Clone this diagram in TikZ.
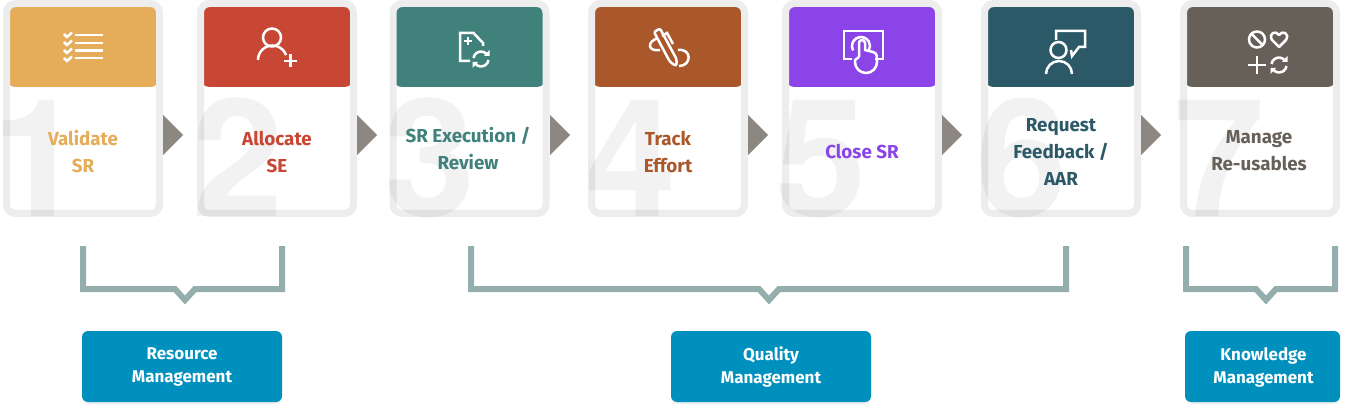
\documentclass[tikz,border=0pt]{standalone}
\usepackage{fontspec}
\setmainfont{Fira Sans}
\newfontfamily\numfont{TeX Gyre Heros}
\usetikzlibrary{arrows.meta,positioning,shadows}
\definecolor{Frame}{HTML}{EDEDED}
\definecolor{Amber}{HTML}{E5AC59}
\definecolor{Brick}{HTML}{C74634}
\definecolor{Teal}{HTML}{41817C}
\definecolor{Copper}{HTML}{AB572C}
\definecolor{Violet}{HTML}{8A44E8}
\definecolor{Slate}{HTML}{2C5967}
\definecolor{Umber}{HTML}{676059}
\definecolor{Tip}{HTML}{8C8780}
\definecolor{Brace}{HTML}{93AEAD}
\definecolor{Ocean}{HTML}{0090BE}

\begin{document}
\begin{tikzpicture}[
    x=1pt, y=-1pt,
    card/.style={draw=Frame, line width=7pt, rounded corners=9pt, fill=white,
      minimum width=153pt, minimum height=210pt, inner sep=0pt,
      path picture={\fill[#1] (path picture bounding box.north west)
        rectangle ([yshift=-83.5pt]path picture bounding box.north east);}},
    digit/.style={anchor=base west, inner sep=0pt, text=black, text opacity=0.05,
      font=\fontsize{164}{164}\selectfont\numfont\bfseries},
    cardtext/.style={align=center, inner sep=0pt, font=\fontsize{18.8}{27}\selectfont\bfseries,
      execute at begin node=\strut, execute at end node=\strut},
    tip/.style={fill=Tip},
    brace/.style={draw=Brace, line width=6pt, miter limit=10},
    groupbox/.style={fill=Ocean, rounded corners=6pt, minimum height=71pt, inner sep=0pt,
      drop shadow={opacity=0.12, shadow xshift=0pt, shadow yshift=-2pt}},
    grouptext/.style={align=center, inner sep=0pt, text=white,
      font=\fontsize{17}{23}\selectfont\bfseries,
      execute at begin node=\strut, execute at end node=\strut},
    icon/.style={draw=white, line width=2.5pt},
    refresh/.pic={
      \draw[icon] (-7.5,-1) arc[start angle=188, end angle=320, radius=7.5];
      \draw[icon] (7.5,1) arc[start angle=8, end angle=140, radius=7.5];
      \fill[white] (8.5,-9) -- (8.5,-3) -- (3,-3) -- cycle;
      \fill[white] (-8.5,9) -- (-8.5,3) -- (-3,3) -- cycle;
    }
  ]
    \useasboundingbox (0,0) rectangle (1349,414);

    % cards
    \node[card=Amber] (validate) at (83,108.5) {};
    \node[card=Brick, right=34pt of validate] (allocate) {};
    \node[card=Teal, right=32.5pt of allocate] (execution) {};
    \node[card=Copper, right=38.5pt of execution] (track) {};
    \node[card=Violet, right=34pt of track] (closesr) {};
    \node[card=Slate, right=39pt of closesr] (feedback) {};
    \node[card=Umber, right=39pt of feedback] (reuse) {};

    % big numbers
    \node[digit] (num1) at (-8,217) {1};
    \node[digit] (num2) at (192,217) {2};
    \node[digit] (num3) at (384,217) {3};
    \node[digit] (num4) at (585,217) {4};
    \node[digit] (num5) at (775,217) {5};
    \node[digit] (num6) at (976,217) {6};
    \node[digit] (num7) at (1173,217) {7};

    \node[cardtext, text=Amber] (validatetext) at (83,155.5) {Validate\\SR};
    \node[cardtext, text=Brick] (allocatetext) at (277,155.5) {Allocate\\SE};
    \node[cardtext, text=Teal] (executiontext) at (468,152.5) {SR Execution /\\Review};
    \node[cardtext, text=Copper] (tracktext) at (668,155.5) {Track\\Effort};
    \node[cardtext, text=Violet] (closesrtext) at (862,153.5) {Close SR};
    \node[cardtext, text=Slate] (feedbacktext) at (1061,156.5) {Request\\Feedback /\\AAR};
    \node[cardtext, text=Umber] (reusetext) at (1259,154.5) {Manage\\Re-usables};

    % arrows between the cards
    \fill[tip] (163,115) -- (183,135) -- (163,155) -- cycle;
    \fill[tip] (357,115) -- (377,135) -- (357,155) -- cycle;
    \fill[tip] (550,115) -- (570,135) -- (550,155) -- cycle;
    \fill[tip] (748,115) -- (768,135) -- (748,155) -- cycle;
    \fill[tip] (942,115) -- (962,135) -- (942,155) -- cycle;
    \fill[tip] (1141,115) -- (1161,135) -- (1141,155) -- cycle;

    % icons
    \draw[icon] (75,35) -- (103,35) (75,43) -- (103,43) (75,50.5) -- (103,50.5) (75,58) -- (103,58);
    \draw[icon] (64,34) -- (67,37) -- (72,32.5) (64,42) -- (67,45) -- (72,40.5)
      (64,50) -- (67,53) -- (72,48.5) (64,58) -- (67,61) -- (72,56.5);

    \draw[icon] (272,37.5) circle[radius=9];
    \draw[icon] (258,60) arc[start angle=180, end angle=340, radius=14.5];
    \draw[icon] (284,61) -- (297,61) (290.5,54.5) -- (290.5,67.5);

    \draw[icon] (483,46) -- (483,43) -- (473.5,33) -- (460,33) -- (460,61) -- (470,61);
    \draw[icon] (464,41) -- (472,41) (468,37) -- (468,45);
    \begin{scope}[shift={(481,59)}]
      \pic {refresh};
    \end{scope}

    \draw[icon, rounded corners=2pt] (654,32) -- (660,28.5) -- (677,60) -- (676,66) -- (670,62) -- cycle;
    \draw[icon] (662,36) -- (667,33) -- (673,44);
    \draw[icon] (660,50) .. controls (648,52) and (646,42) .. (658,38);
    \draw[icon] (678,50) .. controls (692,48) and (692,66) .. (679,66);

    \draw[icon] (852,59) -- (844,59) -- (844,31) -- (883,31) -- (883,59) -- (875,59);
    \draw[icon] (859,57) -- (859,43) arc[start angle=180, end angle=360, radius=3] -- (865,50)
      -- (873,52) .. controls (877,53) and (877,56) .. (877,62)
      arc[start angle=0, end angle=180, radius=11] -- (855,60) -- (859,57);
    \draw[icon] (853.2,50.5) arc[start angle=150, end angle=390, radius=9];

    \draw[icon] (1058.5,50) circle[radius=8];
    \draw[icon] (1046,74) arc[start angle=180, end angle=360, radius=13];
    \draw[icon] (1056,40) -- (1056,31) -- (1085,31) -- (1085,47) -- (1079,47) -- (1072,56) -- (1071,50);

    \draw[icon] (1257,39.5) circle[radius=8] (1251.5,34) -- (1262.5,45);
    \draw[icon, line join=round] (1279,47) -- (1272,40) .. controls (1268,33) and (1276,30) .. (1279,35)
      .. controls (1282,30) and (1290,33) .. (1286,40) -- cycle;
    \draw[icon] (1248,65) -- (1266,65) (1257,56) -- (1257,74);
    \begin{scope}[shift={(1279,65)}]
      \pic {refresh};
    \end{scope}

    % brackets
    \draw[brace] (83,246) -- (83,289) -- (175,289) -- (185,300) -- (195,289) -- (282,289) -- (282,246);
    \draw[brace] (471,246) -- (471,289) -- (759,289) -- (769,300) -- (779,289) -- (1066,289) -- (1066,246);
    \draw[brace] (1186,246) -- (1186,289) -- (1256,289) -- (1266,300) -- (1276,289) -- (1335,289) -- (1335,246);

    % groups
    \node[groupbox, minimum width=200pt] (resource) at (182,366.5) {};
    \node[groupbox, minimum width=200pt] (quality) at (771,366.5) {};
    \node[groupbox, minimum width=155pt] (knowledge) at (1262.5,366.5) {};
    \node[grouptext] (resourcetext) at (182,369) {Resource\\Management};
    \node[grouptext] (qualitytext) at (771,369) {Quality\\Management};
    \node[grouptext] (knowledgetext) at (1263.5,369) {Knowledge\\Management};
  \end{tikzpicture}
\end{document}
